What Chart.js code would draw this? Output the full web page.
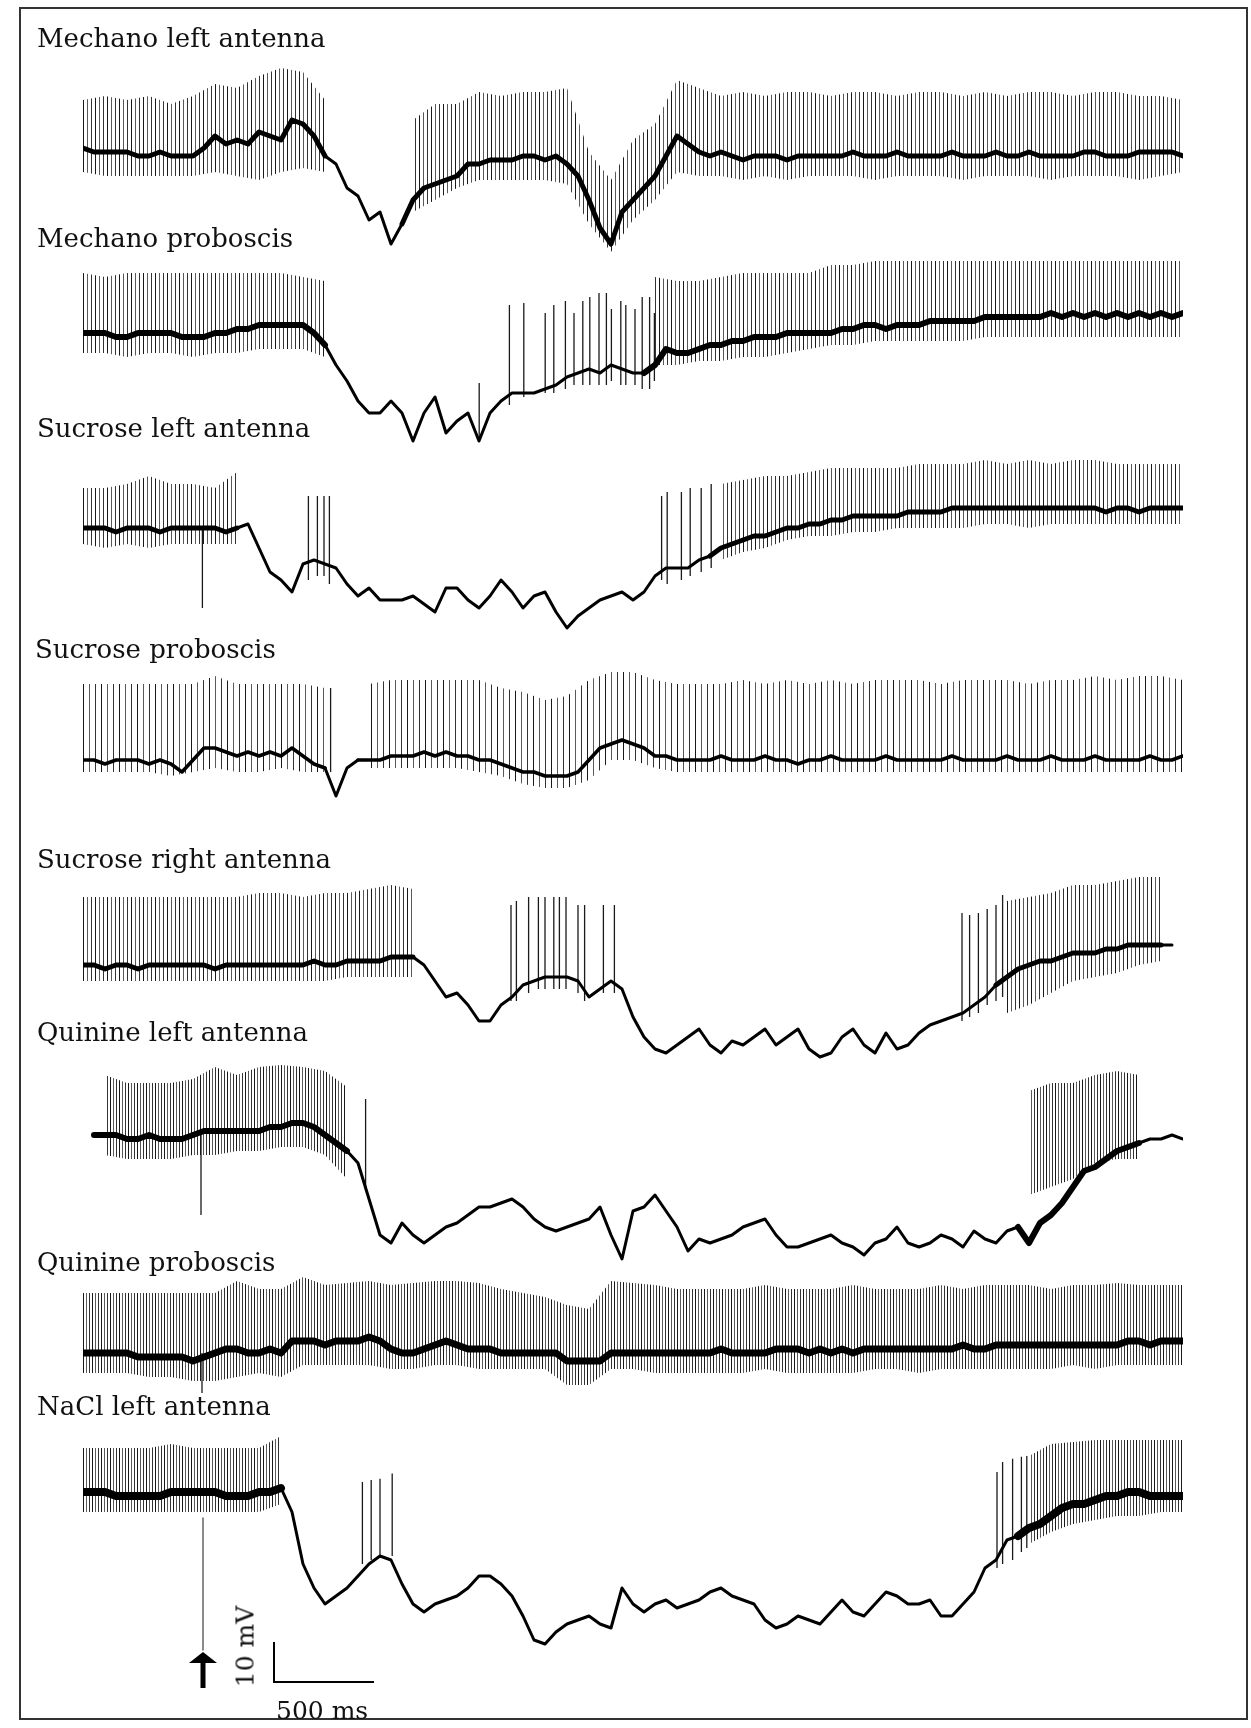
<!DOCTYPE html>
<html><head><meta charset="utf-8">
<script src="https://cdn.jsdelivr.net/npm/chart.js@4.4.1/dist/chart.umd.min.js"></script>
<style>
html,body{margin:0;padding:0;background:#fff;}
body{width:1251px;height:1728px;position:relative;overflow:hidden;}
.frame{position:absolute;left:19px;top:7px;width:1229px;height:1713px;box-sizing:border-box;border:2px solid #333;}
.lbl{position:absolute;font-family:"DejaVu Serif",serif;font-size:26px;line-height:26px;color:#111;white-space:nowrap;}
.sb{position:absolute;font-family:"DejaVu Serif",serif;font-size:25px;line-height:25px;color:#111;white-space:nowrap;}
canvas{position:absolute;}
</style></head><body>
<div class="frame"></div>
<script>
// ---------------- DATA (membrane potential, mV relative to pre-stimulus rest) ----------------
const SAMPLE_MS = 55;   // spacing of baseline (Vm) samples
const ENV_MS = 110;     // spacing of spike-envelope samples
const traceNames = ["Mechano left antenna","Mechano proboscis","Sucrose left antenna","Sucrose proboscis",
                    "Sucrose right antenna","Quinine left antenna","Quinine proboscis","NaCl left antenna"];

// 1 Mechano left antenna
const base1 = [1,0,0,0,0,-1,-1,0,-1,-1,-1, 1,4,2,3,2,5,4,3,8,7,4, -1,-3,-9,-11,-17,-15,-23,-18,-12,-9,-8,
  -7,-6,-3,-3,-2,-2,-2,-1,-1,-2,-1, -3,-6,-12,-19,-23,-15,-12,-9,-6,-1,4,2, 0,-1,0,-1,-2,-1,-1,-1,-2,-1,
  -1,-1,-1,-1,0,-1,-1,-1,0,-1,-1, -1,-1,0,-1,-1,-1,0,-1,-1,0,-1, -1,-1,-1,0,0,-1,-1,-1,0,0,0,0,-1];
const top1 = [13,14,13,14,12,14,17,16,19,21,20,13,null,null,null,8,12,12,15,14,15,15,16,0,-7,3,7,18,16,14,15,14,15,15,14,15,15,14,15,15,14,15,14,15,15,14,15,15,14,14,13];
const low1 = [-5,-6,-6,-6,-6,-6,-5,-6,-7,-5,-4,-5,null,null,null,-15,-12,-9,-7,-7,-7,-7,-8,-18,-25,-17,-12,-5,-6,-6,-7,-6,-7,-6,-6,-6,-7,-6,-6,-6,-7,-6,-6,-6,-7,-6,-6,-6,-7,-6,-5];

// 2 Mechano proboscis
const base2 = [0,0,0,-1,-1,0,0,0,0,-1,-1, -1,0,0,1,1,2,2,2,2,2,0, -3,-8,-12,-17,-20,-20,-17,-20,-27,-20,-16,
  -25,-22,-20,-27,-20,-17,-15,-15,-15,-14,-13, -11,-10,-9,-10,-8,-9,-10,-10,-8,-4,-5,-5, -4,-3,-3,-2,-2,-1,-1,-1,0,0,
  0,0,0,1,1,2,2,1,2,2,2, 3,3,3,3,3,4,4,4,4,4,4, 5,4,5,4,5,4,5,4,5,4,5,4,5];
const top2 = [15,14,15,15,15,15,15,15,15,15,14,13, null,null,null,null,null,null,null,null,null,null,null,null,null,null,
  14,13,13,14,15,15,15,15,17,17, 18,18,18,18,18,18,18,18,18,18,18,18,18,18,18];
const low2 = [-5,-5,-6,-5,-5,-6,-5,-5,-4,-4,-4,-6, null,null,null,null,null,null,null,null,null,null,null,null,null,null,
  -8,-8,-7,-7,-6,-6,-5,-4,-3,-3, -2,-2,-2,-2,-2,-1,-1,-1,-1,-1,-1,-1,-1,-1,-1];
const spikeT2  = [1981,2132,2204,2311,2354,2412,2455,2499,2534,2580,2617,2642,2689,2714,2760,2796,2833,2857];
const spikeLo2 = [-26,-18,-16,-15,-15,-14,-13,-13,-13,-13,-13,-12,-13,-13,-13,-14,-14,-12];
const spikeHi2 = [-12.5,7,7.5,5,7,8,5,8,9,10,10,6,8,7,6,9,9,5];

// 3 Sucrose left antenna
const base3 = [0,0,0,-1,0,0,0,-1,0,0,0, 0,0,-1,0,1,-5,-11,-13,-16,-9, -8,-9,-10,-14,-17,-15,-18,-18,-18,-17,-19,
  -21,-15,-15,-18,-20,-17,-13,-16,-20,-17, -16,-21,-25,-22,-20,-18,-17,-16,-18,-16, -12,-10,-10,-10,-8,-7,-5,-4,-3,-2,
  -2,-1,0,0,1,1,2,2,3,3, 3,3,3,4,4,4,4,5,5,5, 5,5,5,5,5,5,5,5,5,5, 5,4,5,5,4,5,5,5,5];
const top3 = [10,10,11,13,11,11,10,14, null,null,null,null,null,null,null,null,null,null,null,null,null,null,null,null,null,null,null,null,null,
  11,12,13,13,14,15,15,15,15,16,16,16,17,16,17,16,17,17,16,16,16,16];
const low3 = [-4,-5,-4,-5,-4,-4,-4,-4, null,null,null,null,null,null,null,null,null,null,null,null,null,null,null,null,null,null,null,null,null,
  -8,-6,-5,-3,-2,-2,-1,-1,0,0,0,0,1,1,0,1,1,1,1,1,1,1];
const spikeT3  = [597,1127,1172,1205,1232,2893,2921,2992,3036,3091,3141];
const spikeLo3 = [-20,-13,-12,-12,-14,-13,-14,-13,-12,-11,-10];
const spikeHi3 = [0,8,8,8,8,8,9,9,10,10,11];

// 4 Sucrose proboscis
const base4 = [0,0,-1,0,0,0,-1,0,-1,-3, 0,3,3,2,1,2,1,2,1,3, 1,-1,-2,-9,-2,0,0,0,1,1, 1,2,1,2,1,1,0,0,-1,-2,
  -3,-3,-4,-4,-4,-3,0,3,4,5, 4,3,1,1,0,0,
  0,0,1,0,0, 0,1,0,0,-1, 0,0,1,0,0, 0,0,1,0,0, 0,0,0,1,0, 0,0,0,1,0, 0,0,1,0,0, 0,1,0,0,0, 0,1,0,0,1];
const top4 = [19,19,19,19,19,19,21,19,19,19,19,18,null,19,20,20,20,20,20,18,17,15,16,20,22,22,20,19,19,19,20,19,20,19,20,19,20,20,20,19,20,20,20,19,20,20,21,20,21,21,20];
const low4 = [-3,-3,-3,-3,-4,-3,-2,-3,-3,-2,-3,-3,null,-2,-2,-2,-2,-2,-3,-4,-6,-7,-7,-5,0,0,-2,-3,-3,-3,-3,-3,-3,-3,-3,-3,-3,-3,-3,-3,-3,-3,-3,-3,-3,-3,-3,-3,-3,-3,-3];
const spikeT4  = [1238];
const spikeLo4 = [-3];
const spikeHi4 = [18];

// 5 Sucrose right antenna
const base5 = [0,0,-1,0,0,-1,0,0,0,0, 0,0,-1,0,0,0,0,0,0,0, 0,1,0,0,1,1,1,1,2,2, 2,
  0,-4,-8,-7,-10,-14,-14,-10,-8,-5, -4,-3,-3,-3,-4,-8,-6,-4,-6,-13,-18,
  -21,-22,-20,-18,-16,-20,-22,-19,-20,-18, -16,-20,-18,-16,-21,-23,-22,-18,-16,-20, -22,-17,-21,-20,-17,-15,-14,-13,
  -12,-10,-8,-5,-3,-1,0,1,1,2, 3,3,3,4,4,5,5,5,5,5,null];
const top5 = [17,17,17,17,17,17,17,17,18,18,17,18,18,19,20,19,
  null,null,null,null,null,null,null,null,null,null,null,null,null,null,null,null,null,null,null,null,null,null,null,null,null,null,
  16,17,18,20,20,21,22,22,null];
const low5 = [-4,-4,-4,-4,-4,-4,-4,-4,-4,-4,-4,-4,-3,-3,-3,-3,
  null,null,null,null,null,null,null,null,null,null,null,null,null,null,null,null,null,null,null,null,null,null,null,null,null,null,
  -12,-10,-7,-4,-3,-2,0,1,null];
const spikeT5  = [2140,2167,2228,2277,2310,2354,2382,2415,2475,2508,2602,2657,4395,4433,4477,4521,4565,4598];
const spikeLo5 = [-9,-9,-7,-6,-6,-6,-6,-6,-7,-9,-7,-7,-14,-13,-12,-10,-9,-8];
const spikeHi5 = [15,16,17,17,17,17,17,17,15,15,15,15,13,12.5,13,14,15,17.5];

// 6 Quinine left antenna
const base6 = [null, 0,0,0,-1,-1,0,-1,-1,-1,0, 1,1,1,1,1,1,2,2,3,3, 2,0,-2,-4,-7,-16,-25,-27,-22,-25,
  -27,-25,-23,-22,-20,-18,-18,-17,-16,-18, -21,-23,-24,-23,-22,-21,-18,-25,-31,-19, -18,-15,-19,-23,-29,-26,-27,-26,-25,-23,
  -22,-21,-25,-28,-28,-27,-26,-25,-27,-28, -30,-27,-26,-23,-27,-28,-27,-25,-26,-28, -24,-26,-27,-24,-23,-27,-22,-20,-17,-13,
  -9,-8,-6,-4,-3,-2,-1,-1,0,-1];
const top6 = [null,15,13,13,13,14,17,15,17,17.5,17,16,12,
  null,null,null,null,null,null,null,null,null,null,null,null,null,null,null,null,null,null,null,null,null,null,null,null,null,null,null,null,null,null,
  11,13,13,15,16,15];
const low6 = [null,-5,-6,-6,-6,-5,-5,-4,-4,-3,-3,-5,-11,
  null,null,null,null,null,null,null,null,null,null,null,null,null,null,null,null,null,null,null,null,null,null,null,null,null,null,null,null,null,null,
  -15,-13,-11,-7,-6,-6];
const spikeT6  = [590,1413];
const spikeLo6 = [-20,-14];
const spikeHi6 = [0,9];

// 7 Quinine proboscis
const base7 = [0,0,0,0,0,-1,-1,-1,-1,-1, -2,-1,0,1,1,0,0,1,0,3, 3,3,2,3,3,3,4,3,1,0, 0,1,2,3,2,1,1,1,0,0,
  0,0,0,0,-2,-2,-2,-2,0,0, 0,0,0,0,0,0,0,0,1,0, 0,0,0,1,1,1,0,1,0,1, 0,1,1,1,1,1,1,1,1,1,
  2,1,1,2,2,2,2,2,2,2, 2,2,2,2,2,3,3,2,3,3, 3];
const top7 = [15,15,15,15,15,15,15,18,16,16,19,17,17.5,18,17,17.5,18,18,17.5,16,15,14,12,11,18,17.5,
  17,16,16,16,16,17,16,16,16,17,16,16,16,17,16,17,17,17,16,17,17,17.5,17,17,17];
const low7 = [-5,-5,-5,-6,-6,-7,-7,-6,-5,-6,-3,-3,-3,-3,-4,-4,-3,-3,-4,-4,-4,-4,-8,-8,-4,-4,
  -5,-5,-5,-5,-5,-4,-5,-5,-5,-5,-4,-4,-5,-4,-4,-4,-4,-4,-4,-3,-4,-3,-3,-3,-3];
const spikeT7  = [595];
const spikeLo7 = [-10];
const spikeHi7 = [0];

// 8 NaCl left antenna
const base8 = [0,0,0,-1,-1,-1,-1,-1,0,0, 0,0,0,-1,-1,-1,0,0,1,-5, -18,-24,-28,-26,-24,-21,-18,-16,-17,-23,
  -28,-30,-28,-27,-26,-24,-21,-21,-23,-26, -31,-37,-38,-35,-33,-32,-31,-33,-34,-24, -28,-30,-28,-27,-29,-28,-27,-25,-24,-26,
  -27,-28,-32,-34,-33,-31,-32,-33,-30,-27, -30,-31,-28,-25,-26,-28,-28,-27,-31,-31, -28,-25,-19,-17,-12,-11,-9,-8,-6,-4,
  -3,-3,-2,-1,-1,0,0,-1,-1,-1,-1];
const top8 = [11,11,11,11,12,11,11,11,11,14,
  null,null,null,null,null,null,null,null,null,null,null,null,null,null,null,null,null,null,null,null,null,null,null,null,null,null,null,null,null,null,null,null,null,
  9,12,12.5,13,13,13,13,13];
const low8 = [-5,-5,-5,-5,-5,-5,-5,-5,-5,-3,
  null,null,null,null,null,null,null,null,null,null,null,null,null,null,null,null,null,null,null,null,null,null,null,null,null,null,null,null,null,null,null,null,null,
  -13,-10,-8,-7,-6,-6,-5,-5];
const spikeT8  = [1397,1441,1485,1546,4570,4598,4648,4692,4719];
const spikeLo8 = [-18,-17,-16,-16,-19,-18,-17,-15,-14];
const spikeHi8 = [2.5,3,3.3,4.6,5,7.5,8.3,8.8,9];

// stimulus and calibration
const stimulusMs = 600;
const stimMarkerMv = [-6.5, -39.5];
const scaleBarMs = 500;
const scaleBarMv = 10;
const scaleBarLabels = ["10 mV", "500 ms"];

// ---------------- LAYOUT / STYLE ----------------
const X0 = 83, PX_PER_MS = 0.2, PX_PER_MV = 4, MV_MAX = 25, T_MAX = 5500;
const traces = [
  {base:base1, top:top1, low:low1, sp:null, rest:152, lx:37, lb:47, comb:4, lw:3, lwd:5},
  {base:base2, top:top2, low:low2, sp:[spikeT2,spikeLo2,spikeHi2], rest:333, lx:37, lb:247, comb:4, lw:3, lwd:6},
  {base:base3, top:top3, low:low3, sp:[spikeT3,spikeLo3,spikeHi3], rest:528, lx:37, lb:437, comb:4, lw:3, lwd:5},
  {base:base4, top:top4, low:low4, sp:[spikeT4,spikeLo4,spikeHi4], rest:760, lx:35, lb:658, comb:6, lw:3, lwd:3.5},
  {base:base5, top:top5, low:low5, sp:[spikeT5,spikeLo5,spikeHi5], rest:965, lx:37, lb:868, comb:4, lw:3, lwd:5},
  {base:base6, top:top6, low:low6, sp:[spikeT6,spikeLo6,spikeHi6], rest:1135, lx:37, lb:1041, comb:3, lw:3, lwd:6},
  {base:base7, top:top7, low:low7, sp:[spikeT7,spikeLo7,spikeHi7], rest:1353, lx:37, lb:1271, comb:3, lw:3, lwd:7},
  {base:base8, top:top8, low:low8, sp:[spikeT8,spikeLo8,spikeHi8], rest:1492, lx:37, lb:1415, comb:3, lw:3, lwd:8, mvMin:-57, last:true}
];

function pts(arr, step){ return arr.map((v,i)=>({x:i*step, y:v})); }
function spikePts(sp){
  const out=[]; if(!sp) return out;
  sp[0].forEach((t,i)=>{ out.push({x:t,y:sp[1][i]},{x:t,y:sp[2][i]},{x:t,y:null}); });
  return out;
}
function comb(period){
  const c=document.createElement('canvas'); c.width=period*3; c.height=4;
  const g=c.getContext('2d');
  g.fillStyle='rgba(0,0,0,0.9)'; g.fillRect(0,0,1,4);
  g.fillStyle='rgba(0,0,0,0.65)'; g.fillRect(period,0,1,4);
  g.fillStyle='rgba(0,0,0,0.8)'; g.fillRect(period*2,0,1,4);
  return g.createPattern(c,'repeat');
}

const annotPlugin = {
  id:'annot',
  afterDatasetsDraw(chart, args, opts){
    if(!opts || !opts.on) return;
    const {ctx, scales:{x,y}} = chart;
    ctx.save();
    const ax = x.getPixelForValue(stimulusMs);
    const tip = y.getPixelForValue(-40), hb = y.getPixelForValue(-42.75), sb = y.getPixelForValue(-49);
    ctx.fillStyle='#000';
    ctx.beginPath(); ctx.moveTo(ax,tip); ctx.lineTo(ax+14,hb); ctx.lineTo(ax-14,hb); ctx.closePath(); ctx.fill();
    ctx.fillRect(ax-2.5,hb-1,5,sb-hb+1);
    const t0 = 955, v0 = -47.5;
    const sx = x.getPixelForValue(t0), sy = y.getPixelForValue(v0);
    ctx.strokeStyle='#000'; ctx.lineWidth=2; ctx.lineCap='butt';
    ctx.beginPath();
    ctx.moveTo(sx, y.getPixelForValue(v0+scaleBarMv));
    ctx.lineTo(sx, sy);
    ctx.lineTo(x.getPixelForValue(t0+scaleBarMs), sy);
    ctx.stroke();
    ctx.restore();
  }
};

traces.forEach((tr, idx)=>{
  const mvMin = tr.mvMin !== undefined ? tr.mvMin : -45;
  const h = (MV_MAX - mvMin)*PX_PER_MV;
  const w = T_MAX*PX_PER_MS;
  const cv = document.createElement('canvas');
  cv.width = w; cv.height = h;
  cv.style.left = X0+'px'; cv.style.top = (tr.rest - MV_MAX*PX_PER_MV)+'px';
  cv.style.width = w+'px'; cv.style.height = h+'px';
  document.body.appendChild(cv);

  const lbl = document.createElement('div');
  lbl.className='lbl'; lbl.textContent = traceNames[idx];
  lbl.style.left = tr.lx+'px'; lbl.style.top = (tr.lb-22)+'px';
  document.body.appendChild(lbl);

  const spiking = t => { const j = Math.round(t/ENV_MS); return tr.top[j] !== null && tr.top[j] !== undefined; };
  const datasets = [
    {label:'low', data:pts(tr.low, ENV_MS), borderColor:'transparent', borderWidth:0, pointRadius:0, fill:false, order:3},
    {label:'top', data:pts(tr.top, ENV_MS), borderColor:'transparent', borderWidth:0, pointRadius:0, fill:'-1', backgroundColor:comb(tr.comb), order:2},
    {label:'spikes', data:spikePts(tr.sp), borderColor:'#1a1a1a', borderWidth:1.3, pointRadius:0, fill:false, order:1},
    {label:'Vm', data:pts(tr.base, SAMPLE_MS), borderColor:'#000', borderWidth:tr.lw, pointRadius:0, fill:false, tension:0, order:0,
     borderJoinStyle:'round', borderCapStyle:'round',
     segment:{borderWidth: c => (spiking(c.p0.parsed.x) && spiking(c.p1.parsed.x)) ? tr.lwd : tr.lw}}
  ];
  if(tr.last){
    datasets.push({label:'stimulus', data:[{x:stimulusMs,y:stimMarkerMv[0]},{x:stimulusMs,y:stimMarkerMv[1]}], borderColor:'#666', borderWidth:1.5, pointRadius:0, fill:false, order:4});
  }
  new Chart(cv.getContext('2d'), {
    type:'line',
    data:{datasets},
    options:{
      responsive:false, animation:false, devicePixelRatio:1, events:[],
      spanGaps:false,
      layout:{padding:0},
      plugins:{legend:{display:false}, tooltip:{enabled:false}, annot:{on:!!tr.last}},
      scales:{
        x:{type:'linear', min:0, max:T_MAX, display:false, offset:false},
        y:{type:'linear', min:mvMin, max:MV_MAX, display:false}
      },
      elements:{line:{borderJoinStyle:'round'}}
    },
    plugins:[annotPlugin]
  });
});

const mv = document.createElement('div');
mv.className='sb'; mv.textContent = scaleBarLabels[0];
mv.style.left=(245-50)+'px'; mv.style.top=(1646-12)+'px'; mv.style.width='100px'; mv.style.textAlign='center';
mv.style.transform='rotate(-90deg)';
document.body.appendChild(mv);
const ms = document.createElement('div');
ms.className='sb'; ms.textContent = scaleBarLabels[1];
ms.style.left='276px'; ms.style.top=(1719-21)+'px';
document.body.appendChild(ms);
</script>
</body></html>
